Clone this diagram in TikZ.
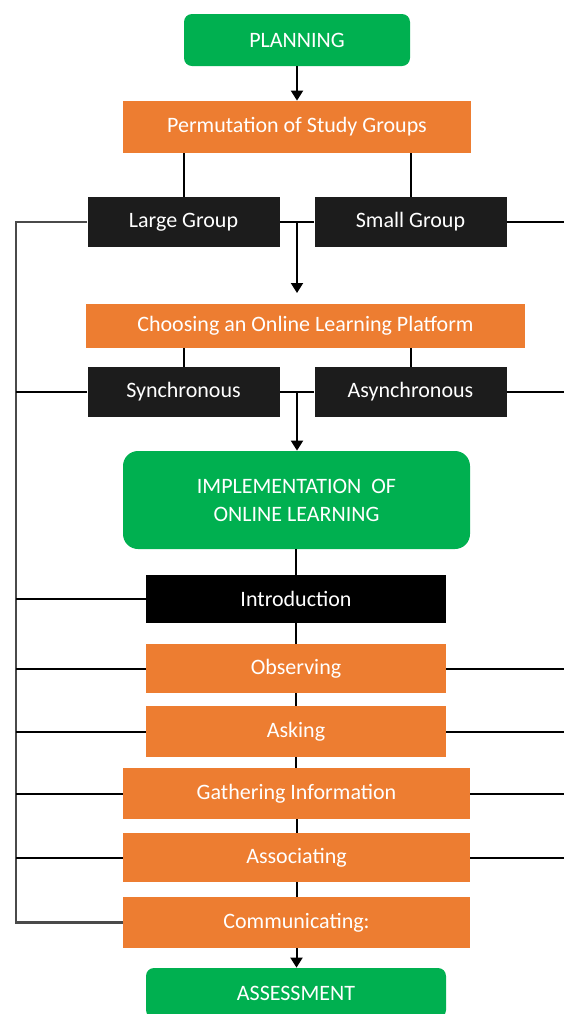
\documentclass[tikz,border=0pt]{standalone}
\usepackage{fontspec}
\setmainfont{Carlito}
\usetikzlibrary{arrows.meta}
\definecolor{plangreen}{HTML}{00B050}
\definecolor{steporange}{HTML}{ED7D31}
\definecolor{boxblack}{HTML}{1C1C1C}
\definecolor{railgray}{HTML}{4A4A4A}

\begin{document}
\begin{tikzpicture}[x=0.5pt,y=-0.5pt,
		box/.style={rectangle,inner sep=0pt,text=white,font=\fontsize{11}{14}\selectfont},
		phasebox/.style={box,fill=plangreen,rounded corners=4pt},
		orangebox/.style={box,fill=steporange},
		blackbox/.style={box,fill=boxblack},
		link/.style={line width=1pt},
		flow/.style={link,-{Triangle[width=6pt,length=5pt]}}]
			\path [use as bounding box,clip] (0,0) rectangle (564,1014);

			% planning and study groups
			\node [phasebox,minimum width=113pt,minimum height=26pt] (plan) at (297,40) {PLANNING};
			\node [orangebox,minimum width=174pt,minimum height=26pt] (perm) at (297,127) {Permutation of Study Groups};
			\node [blackbox,minimum width=96pt,minimum height=25pt] (large) at (183.5,222) {Large Group};
			\node [blackbox,minimum width=96pt,minimum height=25pt] (small) at (410.5,222) {Small Group};

			% platform
			\node [orangebox,minimum width=219.5pt,minimum height=22pt] (choose) at (305.5,326) {Choosing an Online Learning Platform};
			\node [blackbox,minimum width=96pt,minimum height=25pt] (sync) at (183.5,392) {Synchronous};
			\node [blackbox,minimum width=96pt,minimum height=25pt] (async) at (410.5,392) {Asynchronous};

			% implementation steps
			\node [phasebox,rounded corners=7.5pt,minimum width=173.5pt,minimum height=49pt,align=center] (impl) at (296.5,500) {IMPLEMENTATION\ \ OF\\ONLINE LEARNING};
			\node [box,fill=black,minimum width=150pt,minimum height=24pt] (intro) at (296,599) {Introduction};
			\node [orangebox,minimum width=150pt,minimum height=24.5pt] (obs) at (296,668.5) {Observing};
			\node [orangebox,minimum width=150pt,minimum height=25.5pt] (ask) at (296,731.5) {Asking};
			\node [orangebox,minimum width=173.5pt,minimum height=25.5pt] (gath) at (296.5,793.5) {Gathering Information};
			\node [orangebox,minimum width=173.5pt,minimum height=24.5pt] (assoc) at (296.5,857.5) {Associating};
			\node [orangebox,minimum width=173.5pt,minimum height=25.5pt] (comm) at (296.5,922.5) {Communicating:};
			\node [phasebox,minimum width=150pt,minimum height=25pt] (assess) at (296,993) {ASSESSMENT};

			\coordinate (j1) at (297,222);
			\coordinate (j2) at (297,392);
			\coordinate (rail) at (16,222);
			\coordinate (redge) at (564,0);

			\draw [flow] (plan) -- (perm);
			\draw [link] (large.north) -- (large.north |- perm.south);
			\draw [link] (small.north) -- (small.north |- perm.south);
			\draw [link] (large.east) -- (small.west);
			\draw [flow] (j1) -- ++(0,71);
			\draw [link] (sync.north) -- (sync.north |- choose.south);
			\draw [link] (async.north) -- (async.north |- choose.south);
			\draw [link] (sync.east) -- (async.west);
			\draw [flow] (j2) -- (j2 |- impl.north);

			\draw [link] (intro.north |- impl.south) -- (intro.north);
			\draw [link] (intro.south) -- (obs.north);
			\draw [link] (obs.south) -- (ask.north);
			\draw [link] (ask.south) -- (ask.south |- gath.north);
			\draw [link] (gath.south) -- (gath.south |- assoc.north);
			\draw [link] (assoc.south) -- (assoc.south |- comm.north);
			\draw [flow] (comm.south) -- (comm.south |- assess.north);

			% left rail
			\draw [link,railgray,line width=1.3pt] (large.west) -- (rail) -- (rail |- comm.west) -- (comm.west);
			\foreach \n in {sync,intro,obs,ask,gath,assoc}
				\draw [link] (\n.west) -- (\n.west -| rail);
			% right side
			\foreach \n in {small,async,obs,ask,gath,assoc}
				\draw [link] (\n.east) -- (\n.east -| redge);
		\end{tikzpicture}
\end{document}
